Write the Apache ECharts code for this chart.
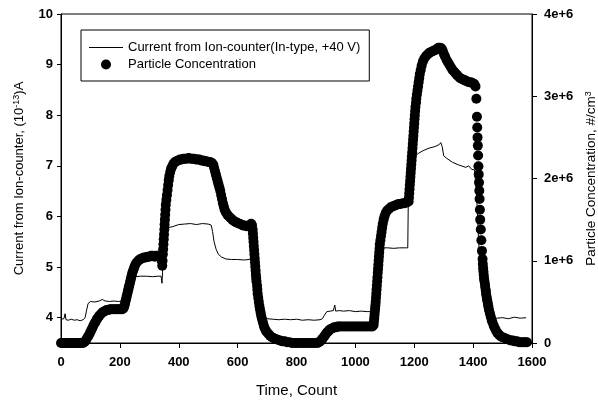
<!DOCTYPE html>
<html>
<head>
<meta charset="UTF-8">
<script src="https://cdn.jsdelivr.net/npm/echarts@6/dist/echarts.min.js"></script>
<style>
  html, body { margin: 0; padding: 0; background: #fff; }
  #chart { width: 598px; height: 401px; }
</style>
</head>
<body>
<div id="chart"></div>
<script>
// ion-counter current, [count, 10^-13 A] (left axis)
var currentPoints = [[0, 3.97], [5, 3.96], [10, 3.98], [14, 4.08], [17, 3.96], [25, 3.95], [35, 3.97], [45, 3.95],
  [55, 3.96], [65, 3.94], [75, 3.96], [82, 4.0], [87, 4.15], [92, 4.28], [100, 4.32], [115, 4.31], [130, 4.33],
  [140, 4.36], [150, 4.33], [165, 4.32], [180, 4.33], [195, 4.32], [207, 4.33], [215, 4.45], [225, 4.65],
  [235, 4.78], [250, 4.81], [270, 4.82], [290, 4.82], [310, 4.81], [330, 4.82], [340, 4.82], [343, 4.68],
  [345, 4.9], [348, 5.4], [352, 5.6], [358, 5.72], [365, 5.78], [380, 5.8], [400, 5.84], [420, 5.85], [440, 5.86],
  [460, 5.84], [480, 5.86], [500, 5.85], [510, 5.83], [515, 5.7], [520, 5.5], [527, 5.35], [535, 5.25], [545, 5.2],
  [560, 5.16], [580, 5.15], [600, 5.15], [620, 5.14], [640, 5.15], [650, 5.15], [660, 4.9], [670, 4.5], [680, 4.2],
  [690, 4.05], [700, 3.98], [720, 3.97], [740, 3.96], [760, 3.97], [780, 3.96], [800, 3.97], [820, 3.95],
  [840, 3.96], [860, 3.95], [880, 3.96], [888, 3.98], [895, 4.05], [903, 4.12], [915, 4.13], [925, 4.14],
  [930, 4.25], [933, 4.13], [945, 4.14], [960, 4.13], [980, 4.14], [1000, 4.12], [1020, 4.13], [1040, 4.12],
  [1055, 4.12], [1060, 4.12], [1065, 4.5], [1070, 5.1], [1075, 5.35], [1090, 5.38], [1110, 5.38], [1130, 5.37],
  [1150, 5.38], [1170, 5.38], [1178, 5.38], [1180, 6.45], [1185, 6.8], [1190, 7.0], [1200, 7.18], [1215, 7.25],
  [1230, 7.3], [1250, 7.35], [1270, 7.38], [1285, 7.42], [1290, 7.46], [1295, 7.38], [1300, 7.2], [1310, 7.15],
  [1330, 7.07], [1350, 7.02], [1375, 6.97], [1385, 7.0], [1395, 6.93], [1405, 6.92], [1412, 6.4], [1418, 5.6],
  [1425, 4.9], [1432, 4.4], [1440, 4.15], [1450, 4.03], [1465, 4.0], [1480, 3.99], [1500, 4.0], [1520, 3.98],
  [1540, 4.01], [1560, 3.99], [1580, 4.0]];

// particle concentration, [count, millions #/cm3] (right axis)
var concPoints = [[0, 0], [5, 0], [10, 0], [15, 0], [20, 0], [25, 0], [30, 0], [35, 0], [40, 0], [45, 0], [50, 0],
  [55, 0], [60, 0], [65, 0], [70, 0], [75, 0], [78, 0.01], [82, 0.02], [86, 0.04], [90, 0.07], [94, 0.09],
  [98, 0.12], [102, 0.15], [106, 0.18], [110, 0.21], [114, 0.24], [118, 0.26], [122, 0.29], [126, 0.31],
  [130, 0.33], [135, 0.35], [140, 0.37], [145, 0.38], [150, 0.39], [155, 0.40], [160, 0.40], [166, 0.41],
  [172, 0.41], [178, 0.41], [184, 0.41], [190, 0.41], [196, 0.41], [202, 0.41], [208, 0.41], [212, 0.42],
  [214, 0.44], [216, 0.46], [218, 0.49], [220, 0.52], [222, 0.55], [224, 0.58], [226, 0.61], [228, 0.64],
  [230, 0.67], [232, 0.70], [234, 0.73], [236, 0.76], [238, 0.79], [240, 0.82], [242, 0.85], [245, 0.88],
  [248, 0.91], [251, 0.94], [255, 0.97], [260, 0.99], [265, 1.01], [270, 1.02], [276, 1.03], [282, 1.04],
  [288, 1.04], [294, 1.05], [300, 1.05], [306, 1.06], [312, 1.06], [318, 1.05], [324, 1.06], [330, 1.06],
  [336, 1.06], [340, 1.04], [342, 1.00], [344, 0.94], [345, 1.00], [346, 1.08], [347, 1.14], [348, 1.20],
  [349, 1.26], [350, 1.32], [351, 1.38], [352, 1.44], [353, 1.50], [354, 1.56], [355, 1.62], [356, 1.68],
  [358, 1.74], [360, 1.80], [362, 1.86], [364, 1.92], [366, 1.98], [368, 2.03], [371, 2.08], [374, 2.12],
  [378, 2.15], [382, 2.18], [387, 2.20], [392, 2.21], [398, 2.22], [404, 2.23], [410, 2.23], [416, 2.24],
  [422, 2.24], [428, 2.24], [434, 2.25], [440, 2.24], [446, 2.24], [452, 2.24], [458, 2.23], [464, 2.23],
  [470, 2.23], [476, 2.22], [482, 2.22], [488, 2.21], [494, 2.21], [500, 2.20], [506, 2.20], [512, 2.19],
  [517, 2.17], [520, 2.13], [523, 2.09], [526, 2.05], [529, 2.01], [532, 1.97], [535, 1.93], [538, 1.89],
  [541, 1.85], [544, 1.80], [547, 1.75], [550, 1.70], [553, 1.66], [556, 1.62], [560, 1.59], [565, 1.56],
  [570, 1.54], [576, 1.52], [582, 1.50], [588, 1.48], [594, 1.47], [600, 1.46], [606, 1.45], [612, 1.44],
  [618, 1.43], [624, 1.43], [630, 1.42], [636, 1.42], [642, 1.43], [646, 1.45], [649, 1.43], [651, 1.38],
  [652, 1.33], [653, 1.28], [654, 1.23], [655, 1.18], [656, 1.13], [657, 1.08], [658, 1.03], [659, 0.98],
  [660, 0.93], [661, 0.88], [662, 0.83], [663, 0.79], [664, 0.75], [666, 0.70], [667, 0.65], [668, 0.60],
  [670, 0.55], [672, 0.50], [674, 0.45], [676, 0.41], [678, 0.37], [680, 0.33], [683, 0.29], [686, 0.25],
  [689, 0.21], [692, 0.18], [696, 0.15], [700, 0.13], [705, 0.11], [710, 0.09], [716, 0.07], [722, 0.06],
  [729, 0.05], [736, 0.04], [744, 0.03], [752, 0.02], [760, 0.02], [768, 0.01], [776, 0.01], [784, 0],
  [792, 0], [800, 0], [808, 0], [816, 0], [824, 0], [832, 0], [840, 0], [848, 0], [856, 0], [864, 0], [872, 0],
  [876, 0.01], [880, 0.02], [884, 0.03], [888, 0.05], [892, 0.07], [896, 0.09], [900, 0.11], [904, 0.13],
  [908, 0.14], [912, 0.16], [917, 0.17], [922, 0.18], [928, 0.19], [934, 0.19], [940, 0.20], [946, 0.20],
  [954, 0.20], [962, 0.20], [970, 0.20], [978, 0.20], [986, 0.20], [994, 0.20], [1002, 0.20], [1010, 0.20],
  [1018, 0.20], [1026, 0.20], [1034, 0.20], [1042, 0.20], [1050, 0.20], [1058, 0.20], [1062, 0.22],
  [1063, 0.26], [1064, 0.30], [1065, 0.34], [1066, 0.38], [1067, 0.42], [1068, 0.46], [1069, 0.50],
  [1070, 0.55], [1071, 0.60], [1072, 0.65], [1073, 0.70], [1074, 0.75], [1075, 0.80], [1076, 0.85],
  [1077, 0.90], [1078, 0.95], [1079, 1.00], [1080, 1.05], [1081, 1.10], [1082, 1.15], [1083, 1.20],
  [1085, 1.25], [1087, 1.30], [1089, 1.35], [1091, 1.40], [1093, 1.45], [1096, 1.50], [1099, 1.54],
  [1103, 1.58], [1108, 1.61], [1114, 1.63], [1120, 1.65], [1126, 1.66], [1133, 1.67], [1140, 1.68],
  [1147, 1.69], [1154, 1.69], [1161, 1.70], [1168, 1.70], [1175, 1.71], [1181, 1.72], [1182, 1.77],
  [1183, 1.82], [1184, 1.87], [1185, 1.92], [1186, 1.97], [1187, 2.02], [1188, 2.07], [1189, 2.12],
  [1190, 2.17], [1191, 2.22], [1192, 2.27], [1193, 2.32], [1194, 2.37], [1195, 2.42], [1196, 2.47],
  [1197, 2.52], [1198, 2.57], [1199, 2.62], [1200, 2.67], [1201, 2.72], [1202, 2.77], [1203, 2.82],
  [1204, 2.87], [1206, 2.92], [1207, 2.97], [1209, 3.02], [1211, 3.07], [1213, 3.12], [1215, 3.17],
  [1217, 3.22], [1219, 3.27], [1222, 3.32], [1225, 3.37], [1229, 3.42], [1234, 3.46], [1240, 3.49],
  [1246, 3.51], [1252, 3.53], [1258, 3.54], [1264, 3.55], [1270, 3.56], [1276, 3.57], [1282, 3.59],
  [1288, 3.59], [1293, 3.58], [1297, 3.55], [1301, 3.51], [1305, 3.48], [1310, 3.44], [1315, 3.41],
  [1320, 3.38], [1325, 3.35], [1330, 3.32], [1335, 3.30], [1340, 3.28], [1345, 3.26], [1350, 3.24],
  [1356, 3.22], [1362, 3.21], [1368, 3.20], [1374, 3.19], [1380, 3.18], [1386, 3.17], [1392, 3.17],
  [1398, 3.16], [1404, 3.15], [1408, 3.12], [1411, 2.97], [1413, 2.75], [1414, 2.62], [1415, 2.50],
  [1416, 2.40], [1417, 2.28], [1418, 2.15], [1419, 2.05], [1420, 1.95], [1421, 1.85], [1422, 1.75],
  [1423, 1.62], [1424, 1.50], [1426, 1.38], [1428, 1.25], [1430, 1.12], [1432, 1.02], [1433, 0.96],
  [1434, 0.91], [1435, 0.87], [1436, 0.83], [1437, 0.79], [1438, 0.76], [1440, 0.72], [1441, 0.68],
  [1443, 0.64], [1444, 0.60], [1446, 0.56], [1448, 0.52], [1450, 0.48], [1452, 0.44], [1454, 0.40],
  [1457, 0.36], [1460, 0.32], [1463, 0.28], [1466, 0.25], [1470, 0.21], [1474, 0.18], [1478, 0.15],
  [1483, 0.12], [1488, 0.10], [1494, 0.08], [1500, 0.07], [1507, 0.06], [1514, 0.05], [1521, 0.04],
  [1528, 0.03], [1535, 0.03], [1542, 0.02], [1549, 0.02], [1556, 0.01], [1563, 0.01], [1570, 0.01],
  [1577, 0.01], [1583, 0.01]];

var leftTicks = [4, 5, 6, 7, 8, 9, 10];
var currentName = 'Current from Ion-counter(In-type, +40 V)';
var concName = 'Particle Concentration';

var concData = concPoints.map(function (p) { return [p[0], p[1] * 1e6]; });

var font = 'Liberation Sans, Arial, sans-serif';
var labelStyle = { color: '#000', fontFamily: font, fontSize: 13, fontWeight: 'bold' };
var supRich = { sup: { fontFamily: font, fontSize: 9, padding: [0, 0, 6, 0], color: '#000' } };

var myChart = echarts.init(document.getElementById('chart'));
var option = {
  animation: false,
  backgroundColor: '#fff',
  grid: {
    left: 61, right: 66, top: 14, bottom: 58,
    outerBoundsMode: 'none',
    show: true, borderColor: '#000', borderWidth: 1
  },
  legend: {
    orient: 'vertical',
    left: 81, top: 30,
    padding: [11, 9, 10, 8],
    itemWidth: 34, itemHeight: 10, itemGap: 4,
    symbolKeepAspect: true,
    borderColor: '#000', borderWidth: 1, borderRadius: 0,
    backgroundColor: '#fff',
    textStyle: { color: '#000', fontFamily: font, fontSize: 13 },
    data: [
      { name: currentName, icon: 'path://M0,0H34V1H0Z' },
      { name: concName, icon: 'circle' }
    ]
  },
  xAxis: {
    type: 'value', min: 0, max: 1600, interval: 200,
    name: 'Time, Count', nameLocation: 'middle', nameGap: 40,
    nameTextStyle: { color: '#000', fontFamily: font, fontSize: 15 },
    axisLine: { lineStyle: { color: '#000' } },
    axisTick: { inside: false, length: 5, lineStyle: { color: '#000' } },
    axisLabel: Object.assign({ margin: 13, formatter: function (v) { return String(v); } }, labelStyle),
    splitLine: { show: false }
  },
  yAxis: [{
    type: 'value', min: 3.5, max: 10, position: 'left',
    name: 'Current from Ion-counter, (10{sup|-13})A', nameLocation: 'middle', nameGap: 34, nameRotate: 90,
    nameTextStyle: { color: '#000', fontFamily: font, fontSize: 13, rich: supRich },
    axisLine: { show: true, lineStyle: { color: '#000' } },
    axisTick: { show: true, length: 4, customValues: leftTicks, lineStyle: { color: '#000' } },
    axisLabel: Object.assign({ margin: 8, customValues: leftTicks }, labelStyle),
    splitLine: { show: false }
  }, {
    type: 'value', min: 0, max: 4e6, interval: 1e6, position: 'right', alignTicks: false,
    name: 'Particle Concentration, #/cm{sup|3}', nameLocation: 'middle', nameGap: 48, nameRotate: 90,
    nameTextStyle: { color: '#000', fontFamily: font, fontSize: 13.5, rich: supRich },
    axisLine: { show: true, lineStyle: { color: '#000' } },
    axisTick: { show: true, length: 5, lineStyle: { color: '#000' } },
    axisLabel: Object.assign({
      margin: 12,
      formatter: function (v) { return v === 0 ? '0' : (v / 1e6) + 'e+6'; }
    }, labelStyle),
    splitLine: { show: false }
  }],
  series: [{
    name: currentName,
    type: 'line', yAxisIndex: 0, data: currentPoints,
    symbol: 'none', lineStyle: { color: '#000', width: 1 }, itemStyle: { color: '#000' }, z: 2
  }, {
    name: concName,
    type: 'scatter', yAxisIndex: 1, data: concData,
    symbolSize: 10, itemStyle: { color: '#000', opacity: 1 }, z: 3
  }]
};
myChart.setOption(option);
</script>
</body>
</html>
